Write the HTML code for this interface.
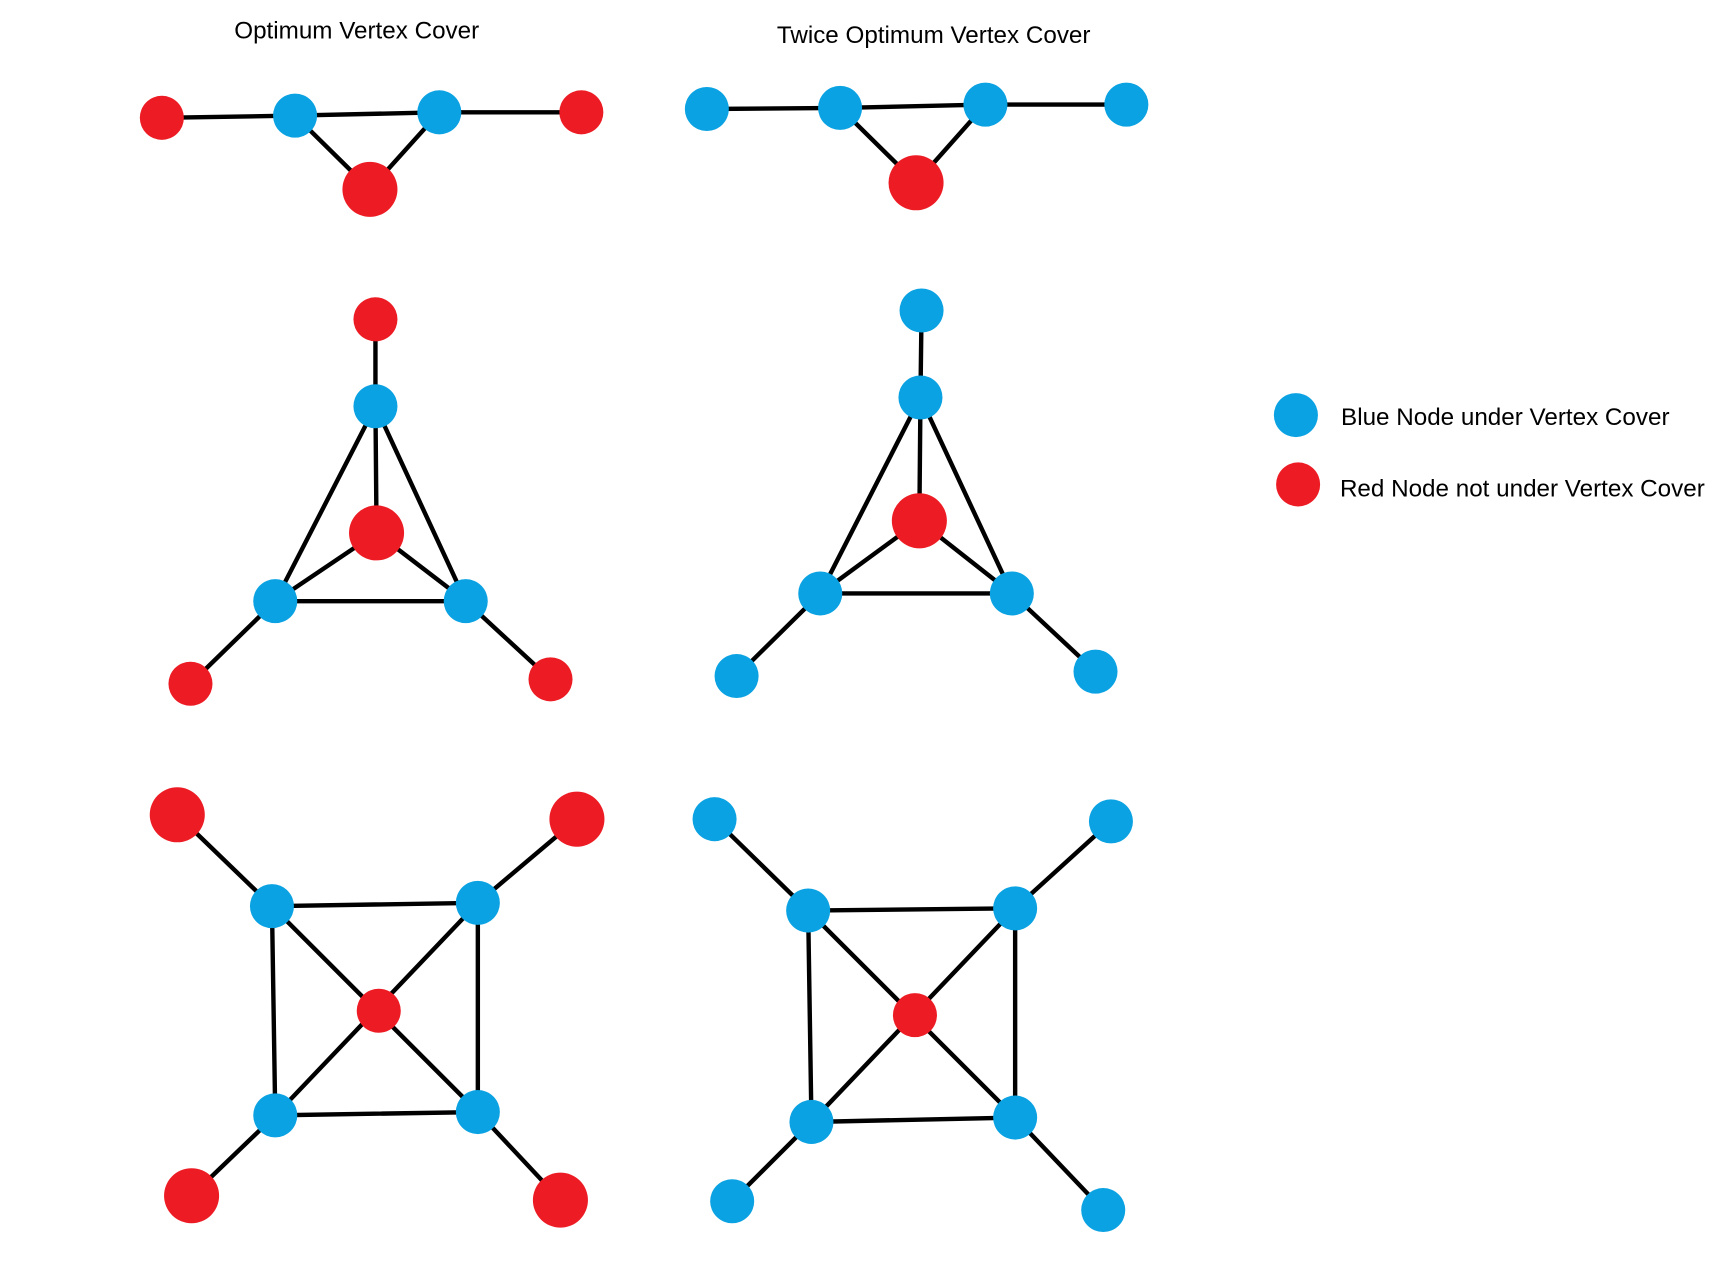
<!DOCTYPE html>
<html><head><meta charset="utf-8"><style>html,body{margin:0;padding:0;background:#fff}svg{display:block}</style></head>
<body>
<svg width="1722" height="1275" viewBox="0 0 1564 1158" preserveAspectRatio="none" xmlns="http://www.w3.org/2000/svg">
<g font-family="Liberation Sans, sans-serif" font-size="22" fill="#000">
<text x="324" y="35" text-anchor="middle">Optimum Vertex Cover</text>
<text x="848" y="39" text-anchor="middle">Twice Optimum Vertex Cover</text>
<text x="1218" y="386">Blue Node under Vertex Cover</text>
<text x="1217" y="451">Red Node not under Vertex Cover</text>
</g>
<g stroke="#000" stroke-width="4" fill="none">
<path d="M147 107L268 105L399 102L528 102M268 105L336 172L399 102"/>
<path d="M642 99L763 98L895 95L1023 95M763 98L832 166L895 95"/>
<path d="M341 290L341 369L342 484M341 369L250 546L423 546L341 369M250 546L342 484L423 546M250 546L173 621M423 546L500 617"/>
<path d="M837 282L836 361L835 473M836 361L745 539L919 539L836 361M745 539L835 473L919 539M745 539L669 614M919 539L995 610"/>
<path d="M161 740L247 823L434 820L434 1010L250 1013L247 823L434 1010M434 820L250 1013M434 820L524 744M250 1013L174 1086M434 1010L509 1090"/>
<path d="M649 744L734 827L922 825L922 1015L737 1019L734 827L922 1015M922 825L737 1019M922 825L1009 746M737 1019L665 1091M922 1015L1002 1099"/>
</g>
<g fill="#0AA2E2">
<circle cx="268" cy="105" r="20"/><circle cx="399" cy="102" r="20"/>
<circle cx="642" cy="99" r="20"/><circle cx="763" cy="98" r="20"/><circle cx="895" cy="95" r="20"/><circle cx="1023" cy="95" r="20"/>
<circle cx="341" cy="369" r="20"/><circle cx="250" cy="546" r="20"/><circle cx="423" cy="546" r="20"/>
<circle cx="837" cy="282" r="20"/><circle cx="836" cy="361" r="20"/><circle cx="745" cy="539" r="20"/><circle cx="919" cy="539" r="20"/><circle cx="669" cy="614" r="20"/><circle cx="995" cy="610" r="20"/>
<circle cx="247" cy="823" r="20"/><circle cx="434" cy="820" r="20"/><circle cx="250" cy="1013" r="20"/><circle cx="434" cy="1010" r="20"/>
<circle cx="649" cy="744" r="20"/><circle cx="1009" cy="746" r="20"/><circle cx="734" cy="827" r="20"/><circle cx="922" cy="825" r="20"/><circle cx="737" cy="1019" r="20"/><circle cx="922" cy="1015" r="20"/><circle cx="665" cy="1091" r="20"/><circle cx="1002" cy="1099" r="20"/>
<circle cx="1177" cy="377" r="20"/>
</g>
<g fill="#ED1C24">
<circle cx="147" cy="107" r="20"/><circle cx="528" cy="102" r="20"/><circle cx="336" cy="172" r="25"/>
<circle cx="832" cy="166" r="25"/>
<circle cx="341" cy="290" r="20"/><circle cx="342" cy="484" r="25"/><circle cx="173" cy="621" r="20"/><circle cx="500" cy="617" r="20"/>
<circle cx="835" cy="473" r="25"/>
<circle cx="161" cy="740" r="25"/><circle cx="524" cy="744" r="25"/><circle cx="344" cy="918" r="20"/><circle cx="174" cy="1086" r="25"/><circle cx="509" cy="1090" r="25"/>
<circle cx="831" cy="922" r="20"/>
<circle cx="1179" cy="440" r="20"/>
</g>
</svg>
</body></html>
